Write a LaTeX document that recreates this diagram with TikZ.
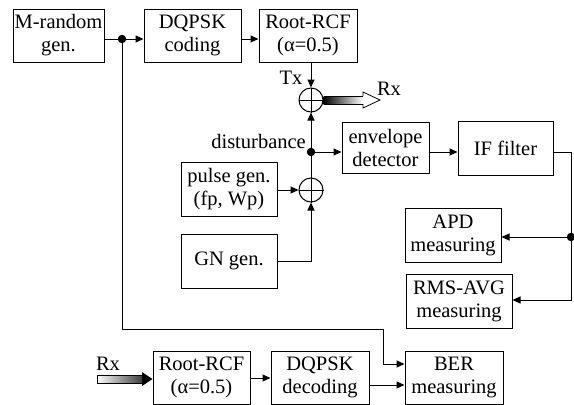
\documentclass[tikz,border=0pt]{standalone}
\usepackage{fontspec}
\setmainfont{Liberation Serif}
\usetikzlibrary{arrows.meta}

\begin{document}
\begin{tikzpicture}[x=1pt,y=-1pt,
  txt/.style={font=\fontsize{20.5}{23}\selectfont},
  block/.style={txt, draw, line width=1pt, align=center, inner sep=0pt,
                minimum height=53pt},
  wire/.style={line width=1pt},
  flow/.style={wire, -{Triangle[length=8pt,width=7pt]}},
  dot/.style={circle, fill, inner sep=0pt, minimum size=8.5pt},
  sum/.style={circle, draw, line width=1pt, minimum size=24pt, inner sep=0pt},
  lbl/.style={txt, inner sep=0pt}]
\useasboundingbox (0,0) rectangle (574,405);

% transmitter chain
\node[block, minimum width=91pt] (mrand) at (58.5,35.5) {M-random\\gen.};
\node[block, minimum width=97pt] (dqpsk) at (192.5,35.5) {DQPSK\\coding};
\node[block, minimum width=98pt] (rcf) at (308,35.5) {Root-RCF\\(α=0.5)};
\node[dot] (j1) at (122,39) {};

% adders and disturbance sources
\node[sum] (s1) at (311,100) {};
\node[sum] (s2) at (311,190) {};
\draw[wire] (s1.north) -- (s1.south) (s1.west) -- (s1.east);
\draw[wire] (s2.north) -- (s2.south) (s2.west) -- (s2.east);
\node[dot] (j2) at (311,152) {};
\node[block, minimum width=96pt, minimum height=54pt] (pulse) at (229,189) {pulse gen.\\(fp, Wp)};
\node[block, minimum width=96pt, minimum height=54pt] (gn) at (229,261) {GN gen.};

% measuring chain
\node[block, minimum width=87pt, minimum height=51pt] (env) at (385.5,147.5) {envelope\\detector};
\node[block, minimum width=95pt, minimum height=54pt] (iff) at (505.5,148) {IF filter};
\node[dot] (j3) at (571,237) {};
\node[block, minimum width=96pt, minimum height=54pt] (apd) at (453,235) {APD\\measuring};
\node[block, minimum width=106pt, minimum height=54pt] (rms) at (459,301) {RMS-AVG\\measuring};

% receiver chain
\node[block, minimum width=97pt] (rcf2) at (201.5,377.5) {Root-RCF\\(α=0.5)};
\node[block, minimum width=98pt] (dec) at (320,377.5) {DQPSK\\decoding};
\node[block, minimum width=98pt] (ber) at (454,377.5) {BER\\measuring};

% labels
\node[lbl] (tx) at (291,78) {Tx};
\node[lbl] (rxa) at (389,89) {Rx};
\node[lbl, anchor=east] (dist) at (306,141) {disturbance};
\node[lbl] (rxb) at (108,364) {Rx};

% connectors
\draw[wire] (mrand.east |- j1) -- (j1);
\draw[flow] (j1) -- (j1 -| dqpsk.west);
\draw[flow] (dqpsk.east |- j1) -- (j1 -| rcf.west);
\draw[flow] (s1 |- rcf.south) -- (s1.north);
\draw[wire] (s2.north) -- (j2);
\draw[flow] (j2) -- (s1.south);
\draw[flow] (pulse.east |- s2) -- (s2.west);
\draw[flow] (gn.east) -| (s2.south);
\draw[flow] (j2) -- (j2 -| env.west);
\draw[flow] (env.east |- j2) -- (j2 -| iff.west);
\draw[wire] (iff.east |- j2) -| (j3);
\draw[flow] (j3) -- (j3 -| apd.east);
\draw[flow] (j3) |- ([yshift=1pt]rms.east);

\coordinate (b1) at (122,329);
\coordinate (b2) at (383,329);
\coordinate (b3) at (383,364);
\draw[flow] (j1) -- (b1) -- (b2) -- (b3) -- (b3 -| ber.west);
\draw[flow] ([yshift=-0.5pt]rcf2.east) -- ([yshift=-0.5pt]dec.west);
\draw[flow] ([yshift=-7.5pt]dec.east) -- ([yshift=-7.5pt]ber.west);

% outgoing Rx arrow (hollow head, shaded shaft)
\coordinate (rxtip) at (380,100);
\shade[left color=black, middle color=gray!60, right color=white]
  ([yshift=4pt]s1.east) rectangle (363,104);
\draw[line width=0.8pt, fill=white] (363,96) -- (363,92) -- (rxtip) -- (363,108) -- (363,104);
\draw[line width=0.8pt] ([yshift=4pt]s1.east) -- (363,96)
  ([yshift=-4pt]s1.east) -- (363,104);

% incoming Rx arrow (shaded shaft, solid head)
\coordinate (rxin) at (97,379);
\shade[left color=white, middle color=gray!35, right color=black!75]
  (97,375) rectangle (142,383);
\draw[line width=0.8pt] (142,375) -- (rxin |- 0,375) -- (rxin |- 0,383) -- (142,383);
\fill (142,372) -- (rcf2.west |- rxin) -- (142,386) -- cycle;
\end{tikzpicture}
\end{document}
